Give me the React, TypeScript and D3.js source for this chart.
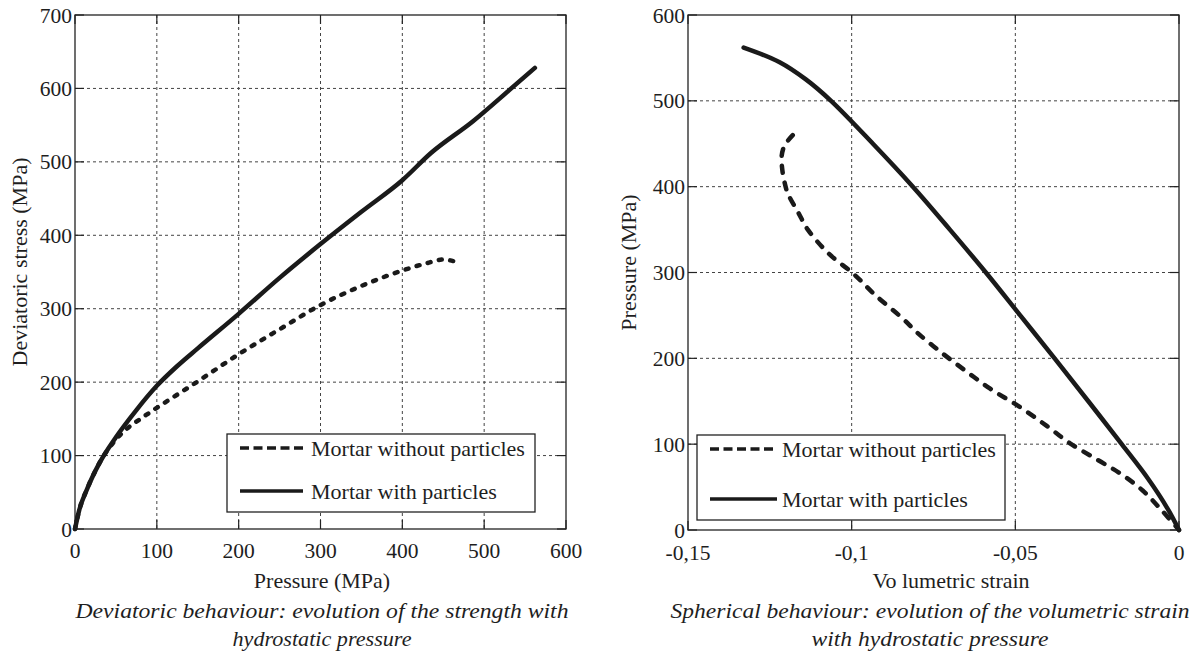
import React from "react";
import * as d3 from "d3";

// ---------- Data ----------
// Left chart: Deviatoric stress vs Pressure
const leftXTicks = [0, 100, 200, 300, 400, 500, 600];
const leftYTicks = [0, 100, 200, 300, 400, 500, 600, 700];
const withoutPressure = [0, 5, 15, 30, 50, 65, 80, 100, 125, 150, 200, 250, 300, 350, 400, 430, 450, 465];
const withoutDeviatoric = [0, 25, 55, 90, 122, 138, 150, 165, 183, 201, 238, 272, 305, 331, 352, 362, 367, 364];
const withPressure = [0, 5, 15, 30, 50, 75, 100, 125, 150, 200, 250, 300, 350, 400, 435, 486, 530, 562];
const withDeviatoric = [0, 25, 55, 90, 125, 162, 195, 222, 246, 293, 342, 388, 432, 475, 512, 555, 597, 628];

// Right chart: Pressure vs Volumetric strain
const rightXTicks = [-0.15, -0.1, -0.05, 0];
const rightYTicks = [0, 100, 200, 300, 400, 500, 600];
const withoutStrain = [-0.118, -0.1205, -0.1214, -0.1212, -0.1205, -0.1195, -0.1162, -0.1134, -0.107, -0.0993, -0.0929, -0.0846, -0.08, -0.073, -0.0654, -0.0578, -0.0485, -0.0403, -0.0333, -0.025, -0.018, -0.0111, -0.0053, 0];
const withoutSphPressure = [460, 448, 435, 420, 405, 392, 369, 350, 322, 298, 274, 247, 230, 208, 186, 165, 143, 121, 101, 82, 66, 46, 23, 0];
const withStrain = [-0.133, -0.122, -0.114, -0.1063, -0.0935, -0.0813, -0.07, -0.059, -0.0485, -0.038, -0.0277, -0.0175, -0.0095, -0.0035, 0];
const withSphPressure = [562, 545, 525, 500, 450, 400, 350, 300, 250, 200, 150, 100, 60, 25, 0];

const seriesNames = ["Mortar without particles", "Mortar with particles"];

const FONT = '"Liberation Serif", "DejaVu Serif", "Times New Roman", Times, serif';

type Pt = [number, number];
const zip = (a: number[], b: number[]): Pt[] => a.map((v, i) => [v, b[i]]);

interface PanelProps {
  xDomain: [number, number];
  yDomain: [number, number];
  xRange: [number, number];
  yRange: [number, number];
  xTicks: number[];
  yTicks: number[];
  fmtX: (v: number) => string;
  dashed: Pt[];
  solid: Pt[];
  dashArray: string;
  monotone: boolean;
  legend: { x0: number; y0: number; x1: number; y1: number; row1: number; row2: number; lx0: number; lx1: number; tx: number };
  yLabel: string;
  yLabelX: number;
  xLabel: string;
  xLabelX: number;
  caption: [string, string];
  captionWidths: [number, number];
  captionX: number;
  xTickY: number;
}

const txt = { fontFamily: FONT, fontSize: 22, fill: "#1e1e1e" } as React.CSSProperties;
const tickTxt = { fontFamily: FONT, fontSize: 21.5, fill: "#1e1e1e" } as React.CSSProperties;

function Panel(p: PanelProps) {
  const x = d3.scaleLinear().domain(p.xDomain).range(p.xRange);
  const y = d3.scaleLinear().domain(p.yDomain).range(p.yRange);
  const line = d3
    .line<Pt>()
    .x((d) => x(d[0]))
    .y((d) => y(d[1]))
    .curve(p.monotone ? d3.curveMonotoneX : d3.curveCatmullRom.alpha(0.5));
  const [xl, xr] = p.xRange;
  const [yb, yt] = p.yRange;
  const tickLen = 9;
  const gridColor = "#444";
  const L = p.legend;
  const yMid = (yb + yt) / 2 - 10;
  return (
    <g>
      {p.xTicks.map((t, i) =>
        i > 0 && i < p.xTicks.length - 1 ? (
          <line key={"gx" + i} x1={x(t)} x2={x(t)} y1={yt} y2={yb} stroke={gridColor} strokeWidth={1} strokeDasharray="3,3" />
        ) : null
      )}
      {p.yTicks.map((t, i) =>
        i > 0 && i < p.yTicks.length - 1 ? (
          <line key={"gy" + i} x1={xl} x2={xr} y1={y(t)} y2={y(t)} stroke={gridColor} strokeWidth={1} strokeDasharray="3,3" />
        ) : null
      )}
      {p.xTicks.map((t, i) => (
        <g key={"tx" + i}>
          <line x1={x(t)} x2={x(t)} y1={yb} y2={yb - tickLen} stroke="#222" strokeWidth={1.2} />
          <line x1={x(t)} x2={x(t)} y1={yt} y2={yt + tickLen} stroke="#222" strokeWidth={1.2} />
          <text x={x(t)} y={p.xTickY} textAnchor="middle" style={tickTxt}>
            {p.fmtX(t)}
          </text>
        </g>
      ))}
      {p.yTicks.map((t, i) => (
        <g key={"ty" + i}>
          <line x1={xl} x2={xl + tickLen} y1={y(t)} y2={y(t)} stroke="#222" strokeWidth={1.2} />
          <line x1={xr} x2={xr - tickLen} y1={y(t)} y2={y(t)} stroke="#222" strokeWidth={1.2} />
          <text x={xl - 3} y={y(t)} dy="0.35em" textAnchor="end" style={tickTxt}>
            {t}
          </text>
        </g>
      ))}
      <rect x={xl} y={yt} width={xr - xl} height={yb - yt} fill="none" stroke="#222" strokeWidth={1.3} />
      <path d={line(p.dashed) || ""} fill="none" stroke="#1a1a1a" strokeWidth={4.5} strokeDasharray={p.dashArray} strokeLinecap="round" />
      <path d={line(p.solid) || ""} fill="none" stroke="#1a1a1a" strokeWidth={4.5} strokeLinecap="round" strokeLinejoin="round" />
      <rect x={L.x0} y={L.y0} width={L.x1 - L.x0} height={L.y1 - L.y0} fill="#fff" stroke="#222" strokeWidth={1.3} />
      <line x1={L.lx0} x2={L.lx1} y1={L.row1} y2={L.row1} stroke="#1a1a1a" strokeWidth={3.5} strokeDasharray="9,4.5" />
      <text x={L.tx} y={L.row1} dy="0.35em" style={txt}>
        {seriesNames[0]}
      </text>
      <line x1={L.lx0} x2={L.lx1} y1={L.row2} y2={L.row2} stroke="#1a1a1a" strokeWidth={3.5} />
      <text x={L.tx} y={L.row2} dy="0.35em" style={txt}>
        {seriesNames[1]}
      </text>
      <text transform={`translate(${p.yLabelX},${yMid}) rotate(-90)`} textAnchor="middle" style={txt}>
        {p.yLabel}
      </text>
      <text x={p.xLabelX} y={588} textAnchor="middle" style={txt}>
        {p.xLabel}
      </text>
      <text
        x={p.captionX}
        y={618}
        textAnchor="middle"
        textLength={p.captionWidths[0]}
        lengthAdjust="spacingAndGlyphs"
        style={{ ...txt, fontStyle: "italic" }}
      >
        {p.caption[0]}
      </text>
      <text
        x={p.captionX}
        y={646}
        textAnchor="middle"
        textLength={p.captionWidths[1]}
        lengthAdjust="spacingAndGlyphs"
        style={{ ...txt, fontStyle: "italic" }}
      >
        {p.caption[1]}
      </text>
    </g>
  );
}

const fmtComma = (v: number) => (v === 0 ? "0" : String(v).replace(".", ","));

export default function App() {
  return (
    <svg width={1198} height={655} style={{ position: "absolute", left: 0, top: 0, background: "#fff" }}>
      <rect x={0} y={0} width={1198} height={655} fill="#fff" />
      <Panel
        xDomain={[0, 600]}
        yDomain={[0, 700]}
        xRange={[75, 566]}
        yRange={[529, 15]}
        xTicks={leftXTicks}
        yTicks={leftYTicks}
        fmtX={(v) => String(v)}
        dashed={zip(withoutPressure, withoutDeviatoric)}
        solid={zip(withPressure, withDeviatoric)}
        dashArray="3,8.5"
        monotone={true}
        legend={{ x0: 227, y0: 434, x1: 535, y1: 512, row1: 448, row2: 491, lx0: 240, lx1: 303, tx: 311 }}
        yLabel="Deviatoric stress (MPa)"
        yLabelX={27}
        xLabel="Pressure (MPa)"
        xLabelX={322}
        caption={["Deviatoric behaviour: evolution of the strength with", "hydrostatic pressure"]}
        captionWidths={[493, 179]}
        captionX={322}
        xTickY={558}
      />
      <Panel
        xDomain={[-0.15, 0]}
        yDomain={[0, 600]}
        xRange={[688, 1179]}
        yRange={[530, 15]}
        xTicks={rightXTicks}
        yTicks={rightYTicks}
        fmtX={fmtComma}
        dashed={zip(withoutStrain, withoutSphPressure)}
        solid={zip(withStrain, withSphPressure)}
        dashArray="7,10"
        monotone={false}
        legend={{ x0: 697, y0: 435, x1: 1005, y1: 520, row1: 449, row2: 499, lx0: 710, lx1: 777, tx: 782 }}
        yLabel="Pressure (MPa)"
        yLabelX={636}
        xLabel="Vo lumetric strain"
        xLabelX={951}
        caption={["Spherical behaviour: evolution of the volumetric strain", "with hydrostatic pressure"]}
        captionWidths={[519, 237]}
        captionX={930}
        xTickY={560}
      />
    </svg>
  );
}
